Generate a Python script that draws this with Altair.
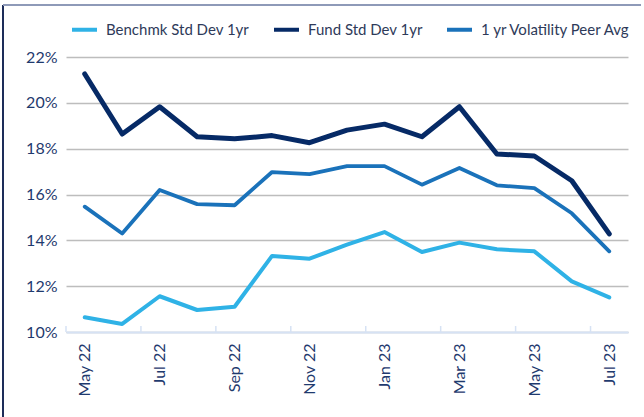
import altair as alt
import pandas as pd

months = ["May 22", "Jun 22", "Jul 22", "Aug 22", "Sep 22", "Oct 22", "Nov 22", "Dec 22",
          "Jan 23", "Feb 23", "Mar 23", "Apr 23", "May 23", "Jun 23", "Jul 23"]
benchmark = [10.64, 10.35, 11.56, 10.96, 11.10, 13.32, 13.20, 13.81,
             14.36, 13.49, 13.90, 13.61, 13.52, 12.21, 11.51]
fund = [21.26, 18.64, 19.83, 18.52, 18.43, 18.57, 18.26, 18.81,
        19.07, 18.52, 19.83, 17.77, 17.68, 16.60, 14.28]
peer = [15.47, 14.30, 16.20, 15.58, 15.53, 16.98, 16.89, 17.24,
        17.24, 16.43, 17.16, 16.40, 16.28, 15.18, 13.52]
series_names = ["Benchmk Std Dev 1yr", "Fund Std Dev 1yr", "1 yr Volatility Peer Avg"]
series_colors = ["#2FB2E6", "#062A66", "#1A72BA"]
series_widths = [4, 5, 3.8]
label_positions = [0.5, 2.5, 4.5, 6.5, 8.5, 10.5, 12.5, 14.5]
tick_positions = [0, 2, 4, 6, 8, 10, 12, 14]
y_ticks = [10, 12, 14, 16, 18, 20, 22]

rows = []
for name, vals in zip(series_names, [benchmark, fund, peer]):
    for i, (m, v) in enumerate(zip(months, vals)):
        rows.append({"series": name, "month": m, "pos": i + 0.5, "value": v})
df = pd.DataFrame(rows)

FONT = "Century Gothic, Lato, sans-serif"
month_arr = "[" + ",".join("'%s'" % m for m in months) + "]"

xscale = alt.Scale(domain=[0, 15], nice=False, zero=False)
yscale = alt.Scale(domain=[10, 22], nice=False, zero=False)

x_enc = alt.X("pos:Q", scale=xscale, title=None,
              axis=alt.Axis(values=label_positions, labelExpr=month_arr + "[floor(datum.value)]",
                            labelAngle=-90, labelFontSize=16, labelFont=FONT, labelColor="#1F3A6E",
                            labelPadding=11, ticks=False, grid=False,
                            domainColor="#D6E2F4", domainWidth=2, zindex=1))
y_enc = alt.Y("value:Q", scale=yscale, title=None,
              axis=alt.Axis(values=y_ticks, labelExpr="datum.value + '%'",
                            labelFontSize=16, labelFont=FONT, labelColor="#1F3A6E",
                            labelPadding=9, ticks=False, domain=False,
                            gridColor="#BDBDBD", gridWidth=1.3))
color_enc = alt.Color("series:N", scale=alt.Scale(domain=series_names, range=series_colors),
                      sort=series_names,
                      legend=alt.Legend(title=None, orient="none", direction="horizontal",
                                        legendX=4, legendY=-42, symbolType="stroke",
                                        symbolSize=625, symbolStrokeWidth=4,
                                        labelFontSize=15, labelFont=FONT, labelColor="#2E3A59",
                                        columnPadding=16, labelOffset=7))

line_layers = []
for name, w in zip(series_names, series_widths):
    line_layers.append(
        alt.Chart(df).transform_filter(alt.datum.series == name)
        .mark_line(strokeCap="round", strokeJoin="round", strokeWidth=w)
        .encode(x=x_enc, y=y_enc, color=color_enc, order=alt.Order("pos:Q"))
    )

tick_df = pd.DataFrame({"pos": tick_positions})
ticks = alt.Chart(tick_df).mark_rule(color="#D6E2F4", strokeWidth=1.5).encode(
    x=alt.X("pos:Q", scale=xscale),
    y=alt.value(269),
    y2=alt.value(275),
)

frame_left = alt.Chart(tick_df).mark_rule(color="#1E2E5A", strokeWidth=1.5).encode(
    x=alt.value(-63), y=alt.value(-52), y2=alt.value(360)
)
frame_top = alt.Chart(tick_df).mark_rule(color="#8E9AB8", strokeWidth=2).encode(
    x=alt.value(-63), x2=alt.value(575), y=alt.value(-52)
)

chart = alt.layer(frame_left, frame_top, ticks, *line_layers).properties(
    width=562, height=275,
    padding={"left": 66, "top": 57, "right": 16, "bottom": 85},
    autosize=alt.AutoSizeParams(type="none"),
    background="white",
).configure_view(stroke=None)

chart.save("out.html", embed_options={"renderer": "svg", "actions": False})
